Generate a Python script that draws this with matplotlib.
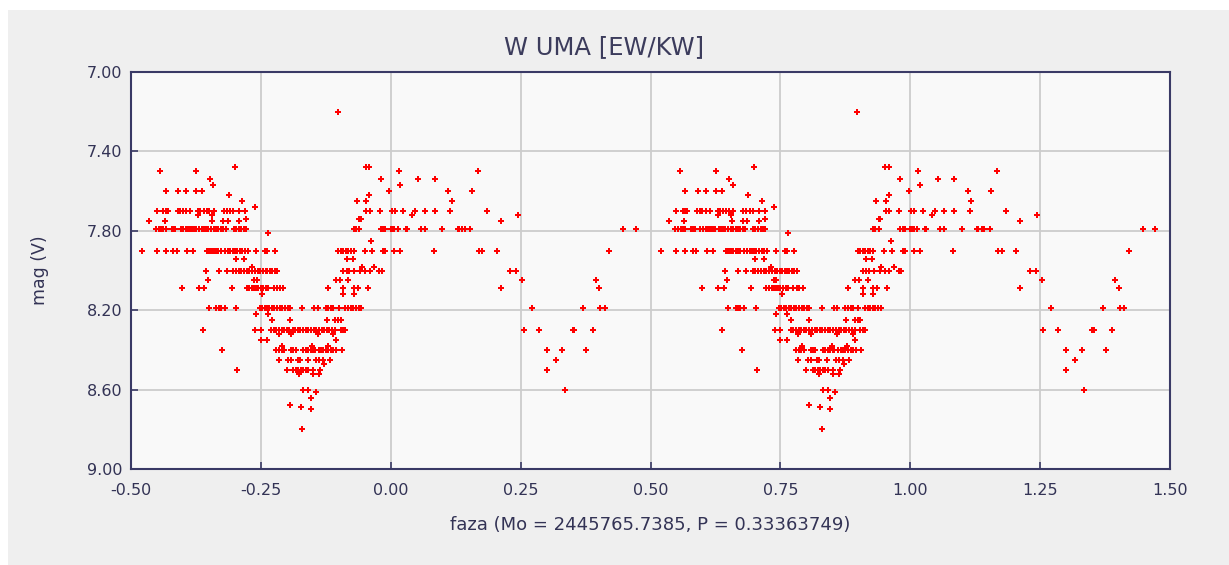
import matplotlib
matplotlib.use("Agg")
import matplotlib.pyplot as plt
import numpy as np

# magnitude levels and the phases (one cycle, -0.5..0.5) observed at each level
m720 = [-0.102]
m748 = [-0.300, -0.048, -0.041]
m750 = [-0.444, -0.374, 0.015, 0.167]
m754 = [-0.348, -0.019, 0.053, 0.085]
m757 = [-0.342, 0.018]
m760 = [-0.433, -0.409, -0.394, -0.374, -0.363, -0.003, 0.111, 0.156]
m762 = [-0.312, -0.041]
m765 = [-0.286, -0.065, -0.047, 0.117]
m768 = [-0.262]
m770 = [-0.450, -0.438, -0.433, -0.429, -0.410, -0.405, -0.400, -0.394, -0.386,
        -0.371, -0.367, -0.360, -0.354, -0.349, -0.341, -0.321, -0.316, -0.309,
        -0.303, -0.292, -0.280, -0.047, -0.040, -0.021, 0.002, 0.008, 0.024,
        0.047, 0.065, 0.085, 0.115, 0.185]
m772 = [-0.371, -0.345, 0.041, 0.244]
m774 = [-0.279, -0.061, -0.058]
m775 = [-0.465, -0.435, -0.344, -0.322, -0.314, -0.292, 0.212]
m780 = [-0.452, -0.447, -0.442, -0.438, -0.433, -0.422, -0.418, -0.415, -0.404,
        -0.399, -0.394, -0.390, -0.386, -0.383, -0.379, -0.375, -0.369, -0.364,
        -0.360, -0.356, -0.351, -0.346, -0.341, -0.336, -0.332, -0.327, -0.322,
        -0.318, -0.302, -0.298, -0.293, -0.288, -0.283, -0.279, -0.071, -0.067,
        -0.061, -0.019, -0.014, -0.011, 0.000, 0.003, 0.007, 0.013, 0.029, 0.031,
        0.058, 0.065, 0.099, 0.129, 0.131, 0.138, 0.142, 0.153, 0.448, 0.472]
m781 = [-0.236]
m785 = [-0.038]
m790 = [-0.479, -0.450, -0.433, -0.419, -0.412, -0.392, -0.380, -0.354, -0.350,
        -0.347, -0.344, -0.341, -0.336, -0.332, -0.327, -0.320, -0.314, -0.309,
        -0.304, -0.300, -0.296, -0.291, -0.286, -0.281, -0.275, -0.259, -0.242,
        -0.238, -0.223, -0.101, -0.096, -0.091, -0.087, -0.082, -0.077, -0.071,
        -0.050, -0.036, -0.014, -0.011, 0.007, 0.018, 0.083, 0.169, 0.176, 0.204,
        0.421]
m793 = [-0.298, -0.282, -0.085, -0.073]
m798 = [-0.268, -0.056, -0.032]
m800 = [-0.356, -0.331, -0.316, -0.303, -0.298, -0.293, -0.288, -0.282, -0.277,
        -0.272, -0.267, -0.261, -0.256, -0.251, -0.246, -0.241, -0.238, -0.233,
        -0.228, -0.223, -0.218, -0.091, -0.085, -0.080, -0.070, -0.059, -0.049,
        -0.040, -0.022, -0.017, 0.230, 0.242]
m805 = [-0.352, -0.263, -0.258, -0.106, -0.098, -0.082, 0.253, 0.395]
m810 = [-0.401, -0.370, -0.359, -0.306, -0.277, -0.272, -0.267, -0.263, -0.259,
        -0.255, -0.250, -0.245, -0.240, -0.236, -0.225, -0.218, -0.214, -0.207,
        -0.120, -0.091, -0.071, -0.064, -0.044, 0.212, 0.401]
m812 = [-0.247, -0.091, -0.071]
m820 = [-0.350, -0.336, -0.331, -0.327, -0.320, -0.297, -0.252, -0.248, -0.243,
        -0.239, -0.234, -0.229, -0.224, -0.219, -0.214, -0.209, -0.204, -0.198,
        -0.194, -0.170, -0.147, -0.141, -0.125, -0.120, -0.115, -0.111, -0.100,
        -0.088, -0.082, -0.077, -0.072, -0.067, -0.062, -0.057, 0.271, 0.371,
        0.403, 0.412]
m822 = [-0.259, -0.237]
m825 = [-0.229, -0.194, -0.123, -0.107, -0.101, -0.096]
m830 = [-0.362, -0.261, -0.250, -0.230, -0.225, -0.220, -0.215, -0.210, -0.205,
        -0.200, -0.195, -0.189, -0.184, -0.179, -0.174, -0.169, -0.164, -0.159,
        -0.154, -0.148, -0.143, -0.138, -0.133, -0.128, -0.123, -0.118, -0.113,
        -0.107, -0.096, -0.091, -0.088, 0.256, 0.285, 0.350, 0.353, 0.389]
m832 = [-0.216, -0.192, -0.141, -0.111]
m835 = [-0.250, -0.238, -0.106]
m838 = [-0.209, -0.151, -0.121]
m840 = [-0.324, -0.220, -0.215, -0.210, -0.205, -0.192, -0.188, -0.183, -0.168,
        -0.164, -0.159, -0.154, -0.149, -0.146, -0.139, -0.134, -0.130, -0.125,
        -0.120, -0.115, -0.111, -0.105, -0.094, 0.300, 0.330, 0.376]
m845 = [-0.216, -0.197, -0.192, -0.179, -0.175, -0.160, -0.143, -0.138, -0.130,
        -0.117, 0.318]
m847 = [-0.128]
m850 = [-0.295, -0.200, -0.188, -0.183, -0.178, -0.173, -0.168, -0.164, -0.159,
        -0.149, -0.136, 0.300]
m852 = [-0.176, -0.149, -0.138]
m860 = [-0.168, -0.159, 0.335]
m861 = [-0.144]
m864 = [-0.154]
m868 = [-0.194]
m869 = [-0.173]
m870 = [-0.154]
m880 = [-0.170]

rows = [
    (7.20, m720), (7.48, m748), (7.50, m750), (7.54, m754), (7.57, m757),
    (7.60, m760), (7.62, m762), (7.65, m765), (7.68, m768), (7.70, m770),
    (7.72, m772), (7.74, m774), (7.75, m775), (7.79, m780), (7.81, m781),
    (7.85, m785), (7.90, m790), (7.94, m793), (7.98, m798), (8.00, m800),
    (8.05, m805), (8.09, m810), (8.12, m812), (8.19, m820), (8.22, m822),
    (8.25, m825), (8.30, m830), (8.32, m832), (8.35, m835), (8.38, m838),
    (8.40, m840), (8.45, m845), (8.47, m847), (8.50, m850), (8.52, m852),
    (8.60, m860), (8.61, m861), (8.64, m864), (8.68, m868), (8.69, m869),
    (8.70, m870), (8.80, m880),
]

x_ticks = [-0.50, -0.25, 0.00, 0.25, 0.50, 0.75, 1.00, 1.25, 1.50]
y_ticks = [7.00, 7.40, 7.80, 8.20, 8.60, 9.00]

title = "W UMA [EW/KW]"
xlabel = "faza (Mo = 2445765.7385, P = 0.33363749)"
ylabel = "mag (V)"

phase = []
mag = []
for m, ps in rows:
    for p in ps:
        phase.append(p)
        mag.append(m)
phase = np.array(phase)
mag = np.array(mag)

W, H = 1229, 565
fig = plt.figure(figsize=(W / 100, H / 100), dpi=100)
fig.patch.set_facecolor("white")
# grey panel (behind everything)
panel = fig.add_axes([8 / W, 0, 1 - 8 / W, 1 - 10 / H], zorder=-10)
panel.set_facecolor("#efefef")
panel.set_xticks([])
panel.set_yticks([])
for s in panel.spines.values():
    s.set_visible(False)

ax = fig.add_axes([131 / W, 1 - 469 / H, (1170 - 131) / W, (469 - 72) / H],
                  zorder=1)
ax.set_facecolor("#f9f9f9")

navy = "#3a3a66"
txt = "#333355"

ax.plot(phase, mag, linestyle="none", marker="P", markersize=3.8,
        color="#ff0000", markeredgewidth=0)
ax.plot(phase + 1, mag, linestyle="none", marker="P", markersize=3.8,
        color="#ff0000", markeredgewidth=0)

ax.set_xlim(-0.5, 1.5)
ax.set_ylim(9.0, 7.0)
ax.set_xticks(x_ticks)
ax.set_yticks(y_ticks)
ax.set_xticklabels([f"{v:.2f}" for v in x_ticks])
ax.set_yticklabels([f"{v:.2f}" for v in y_ticks])
ax.grid(True, color="#cccccc", linewidth=1.3)
ax.set_axisbelow(True)
for s in ax.spines.values():
    s.set_color(navy)
    s.set_linewidth(1.5)
ax.tick_params(axis="both", direction="in", length=5, width=1.2, color=navy,
               labelcolor=txt, labelsize=11.5)
ax.tick_params(axis="x", pad=10)
ax.tick_params(axis="y", pad=6)

fig.text(604 / W, 1 - 47 / H, title, ha="center", va="center", fontsize=17.5,
         color="#3c3c5c")
fig.text(650 / W, 1 - 525 / H, xlabel, ha="center", va="center", fontsize=13,
         color=txt)
fig.text(40 / W, 1 - 270 / H, ylabel, ha="center", va="center", fontsize=12.5,
         color=txt, rotation=90)

fig.savefig("out.png", dpi=100, facecolor=fig.get_facecolor())
